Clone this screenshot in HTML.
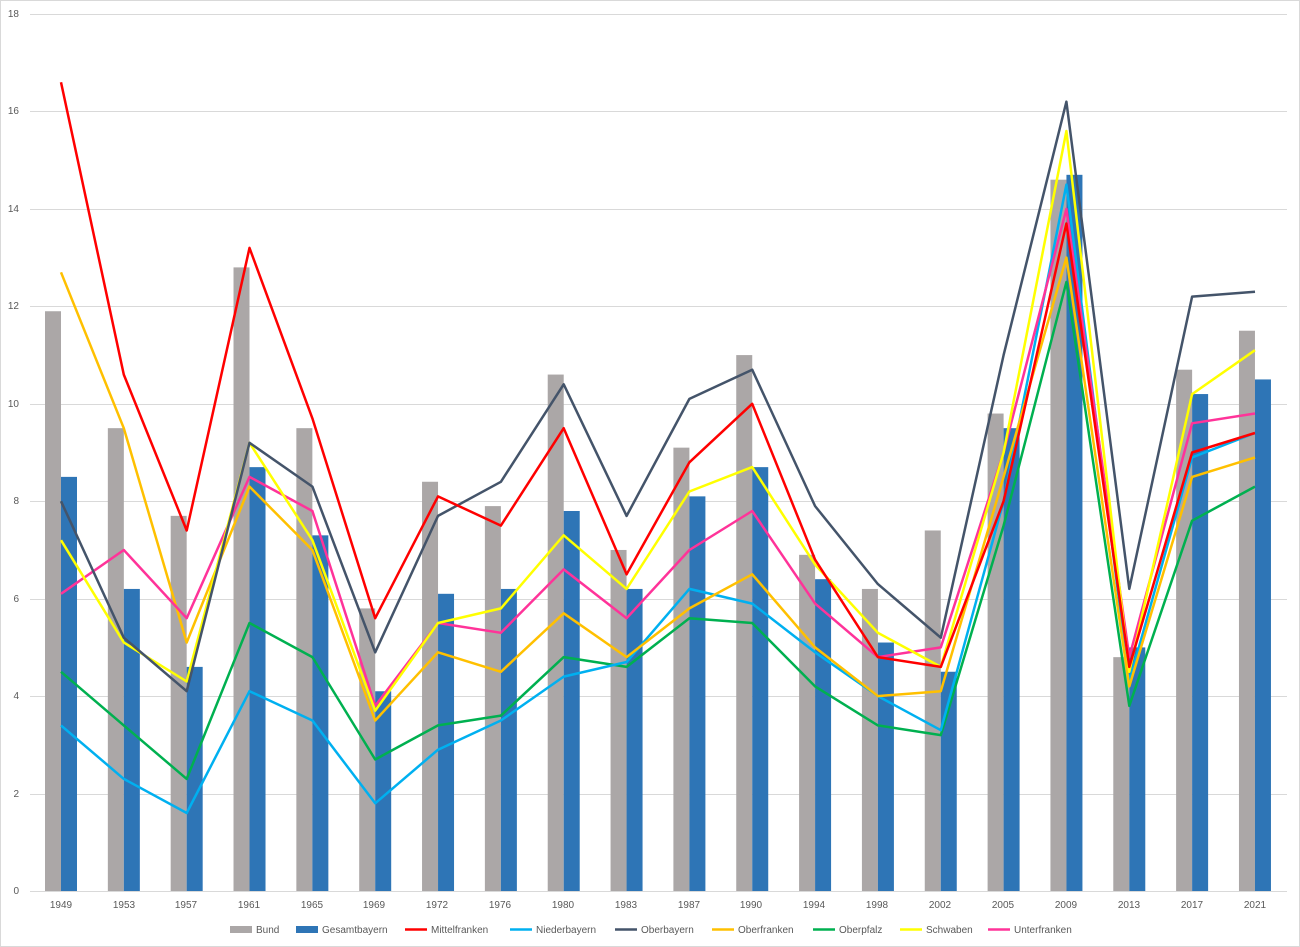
<!DOCTYPE html>
<html><head><meta charset="utf-8"><style>
html,body{margin:0;padding:0;background:#fff}
svg{display:block}
text{font-family:"Liberation Sans",sans-serif;font-size:10px;fill:#595959}
</style></head><body>
<svg id="c" width="1300" height="947" xmlns="http://www.w3.org/2000/svg">
<rect x="0.5" y="0.5" width="1299" height="946" fill="#fff" stroke="#d9d9d9"/>
<g id="grid" stroke="#d9d9d9" stroke-width="1"></g>
<g id="bars"></g>
<g id="lines" fill="none" stroke-width="2.5" stroke-linejoin="round"></g>
<g text-anchor="end">
<text x="19" y="894">0</text><text x="19" y="797">2</text><text x="19" y="699">4</text><text x="19" y="602">6</text><text x="19" y="504">8</text><text x="19" y="407">10</text><text x="19" y="309">12</text><text x="19" y="212">14</text><text x="19" y="114">16</text><text x="19" y="17">18</text>
</g>
<g text-anchor="middle">
<text x="61" y="908">1949</text><text x="124" y="908">1953</text><text x="186" y="908">1957</text><text x="249" y="908">1961</text><text x="312" y="908">1965</text><text x="374" y="908">1969</text><text x="437" y="908">1972</text><text x="500" y="908">1976</text><text x="563" y="908">1980</text><text x="626" y="908">1983</text><text x="689" y="908">1987</text><text x="751" y="908">1990</text><text x="814" y="908">1994</text><text x="877" y="908">1998</text><text x="940" y="908">2002</text><text x="1003" y="908">2005</text><text x="1066" y="908">2009</text><text x="1129" y="908">2013</text><text x="1192" y="908">2017</text><text x="1255" y="908">2021</text>
</g>
<g>
<rect x="230" y="926" width="22" height="7" fill="#aba7a7"/><text x="256" y="933">Bund</text>
<rect x="296" y="926" width="22" height="7" fill="#2e75b6"/><text x="322" y="933">Gesamtbayern</text>
<line x1="405" y1="929.5" x2="427" y2="929.5" stroke="#ff0000" stroke-width="2.5"/><text x="431" y="933">Mittelfranken</text>
<line x1="510" y1="929.5" x2="532" y2="929.5" stroke="#00b0f0" stroke-width="2.5"/><text x="536" y="933">Niederbayern</text>
<line x1="615" y1="929.5" x2="637" y2="929.5" stroke="#44546a" stroke-width="2.5"/><text x="641" y="933">Oberbayern</text>
<line x1="712" y1="929.5" x2="734" y2="929.5" stroke="#ffc000" stroke-width="2.5"/><text x="738" y="933">Oberfranken</text>
<line x1="813" y1="929.5" x2="835" y2="929.5" stroke="#00b050" stroke-width="2.5"/><text x="839" y="933">Oberpfalz</text>
<line x1="900" y1="929.5" x2="922" y2="929.5" stroke="#ffff00" stroke-width="2.5"/><text x="926" y="933">Schwaben</text>
<line x1="988" y1="929.5" x2="1010" y2="929.5" stroke="#ff3399" stroke-width="2.5"/><text x="1014" y="933">Unterfranken</text>
</g>
</svg>
<script>
var NS="http://www.w3.org/2000/svg";
function Y(v){return 891-v*48.72;}
function X(i){return 61+i*62.84;}
var g=document.getElementById('grid');
for(var k=1;k<=9;k++){var l=document.createElementNS(NS,'line');l.setAttribute('x1',30);l.setAttribute('x2',1287);l.setAttribute('y1',Math.round(Y(2*k))+0.5);l.setAttribute('y2',Math.round(Y(2*k))+0.5);g.appendChild(l);}
var ax=document.createElementNS(NS,'line');ax.setAttribute('x1',30);ax.setAttribute('x2',1287);ax.setAttribute('y1',891.5);ax.setAttribute('y2',891.5);ax.setAttribute('stroke','#d9d9d9');g.appendChild(ax);
var bund=[11.9,9.5,7.7,12.8,9.5,5.8,8.4,7.9,10.6,7.0,9.1,11.0,6.9,6.2,7.4,9.8,14.6,4.8,10.7,11.5];
var ges=[8.5,6.2,4.6,8.7,7.3,4.1,6.1,6.2,7.8,6.2,8.1,8.7,6.4,5.1,4.5,9.5,14.7,5.0,10.2,10.5];
var b=document.getElementById('bars');
for(var i=0;i<20;i++){
 var r=document.createElementNS(NS,'rect');r.setAttribute('x',X(i)-16);r.setAttribute('width',16);r.setAttribute('y',Y(bund[i]));r.setAttribute('height',891-Y(bund[i]));r.setAttribute('fill','#aba7a7');b.appendChild(r);
 r=document.createElementNS(NS,'rect');r.setAttribute('x',X(i));r.setAttribute('width',16);r.setAttribute('y',Y(ges[i]));r.setAttribute('height',891-Y(ges[i]));r.setAttribute('fill','#2e75b6');b.appendChild(r);
}
var S=[
['#00b050',[4.5,3.4,2.3,5.5,4.8,2.7,3.4,3.6,4.8,4.6,5.6,5.5,4.2,3.4,3.2,7.5,12.5,3.8,7.6,8.3]],
['#00b0f0',[3.4,2.3,1.6,4.1,3.5,1.8,2.9,3.5,4.4,4.7,6.2,5.9,4.9,4.0,3.3,8.0,14.5,4.3,8.9,9.4]],
['#ffc000',[12.7,9.5,5.1,8.3,7.0,3.5,4.9,4.5,5.7,4.8,5.8,6.5,5.0,4.0,4.1,8.5,13.0,4.2,8.5,8.9]],
['#ff3399',[6.1,7.0,5.6,8.5,7.8,3.8,5.5,5.3,6.6,5.6,7.0,7.8,5.9,4.8,5.0,9.0,14.0,4.8,9.6,9.8]],
['#ffff00',[7.2,5.1,4.3,9.2,7.2,3.7,5.5,5.8,7.3,6.2,8.2,8.7,6.7,5.3,4.6,9.0,15.6,4.5,10.2,11.1]],
['#44546a',[8.0,5.2,4.1,9.2,8.3,4.9,7.7,8.4,10.4,7.7,10.1,10.7,7.9,6.3,5.2,11.0,16.2,6.2,12.2,12.3]],
['#ff0000',[16.6,10.6,7.4,13.2,9.7,5.6,8.1,7.5,9.5,6.5,8.8,10.0,6.8,4.8,4.6,8.0,13.7,4.6,9.0,9.4]]
];
var L=document.getElementById('lines');
S.forEach(function(s){var p=document.createElementNS(NS,'polyline');p.setAttribute('stroke',s[0]);p.setAttribute('points',s[1].map(function(v,i){return X(i).toFixed(1)+','+Y(v).toFixed(1);}).join(' '));L.appendChild(p);});
</script>
</body></html>
